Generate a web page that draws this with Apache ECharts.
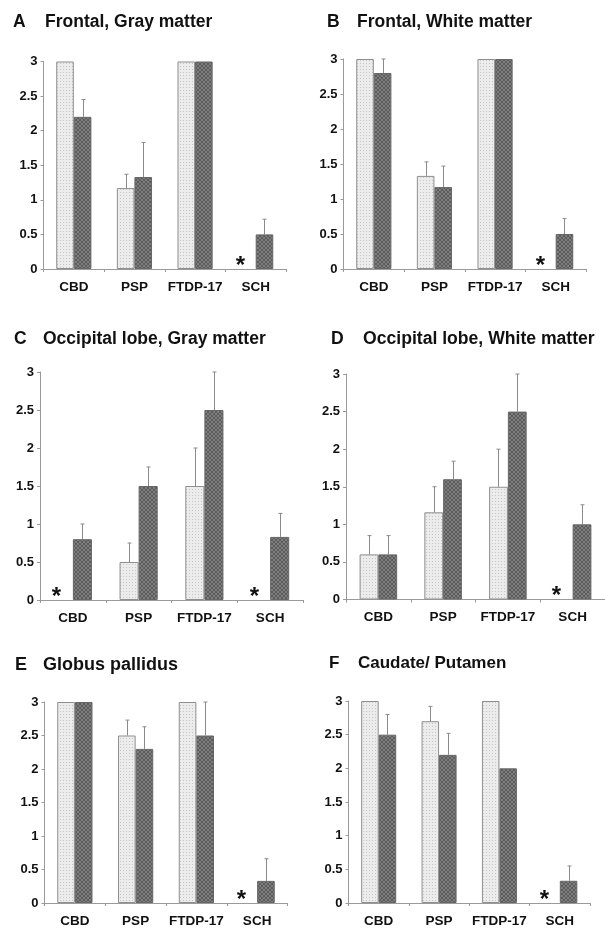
<!DOCTYPE html>
<html>
<head>
<meta charset="utf-8">
<script src="https://cdn.jsdelivr.net/npm/echarts@6/dist/echarts.min.js"></script>
<style>
html, body { margin: 0; padding: 0; background: #fff; }
#chart { width: 605px; height: 928px; }
</style>
</head>
<body>
<div id="chart"></div>
<script>
// x categories (same for all six panels)
const categories = ['CBD', 'PSP', 'FTDP-17', 'SCH'];
// y scale
const yMin = 0, yMax = 3, yStep = 0.5;

// A  Frontal, Gray matter   (light = dotted bars, dark = hatched bars, *Err = upper error bar)
const aLight = [3, 1.17, 3, 0];
const aLightErr = [0, 0.2, 0, 0];
const aDark = [2.2, 1.33, 3, 0.5];
const aDarkErr = [0.25, 0.5, 0, 0.22];

// B  Frontal, White matter
const bLight = [3, 1.33, 3, 0];
const bLightErr = [0, 0.2, 0, 0];
const bDark = [2.8, 1.17, 3, 0.5];
const bDarkErr = [0.2, 0.3, 0, 0.22];

// C  Occipital lobe, Gray matter
const cLight = [0, 0.5, 1.5, 0];
const cLightErr = [0, 0.25, 0.5, 0];
const cDark = [0.8, 1.5, 2.5, 0.83];
const cDarkErr = [0.2, 0.25, 0.5, 0.31];

// D  Occipital lobe, White matter
const dLight = [0.6, 1.16, 1.5, 0];
const dLightErr = [0.25, 0.34, 0.5, 0];
const dDark = [0.6, 1.6, 2.5, 1.0];
const dDarkErr = [0.25, 0.24, 0.5, 0.26];

// E  Globus pallidus
const eLight = [3, 2.5, 3, 0];
const eLightErr = [0, 0.23, 0, 0];
const eDark = [3, 2.3, 2.5, 0.33];
const eDarkErr = [0, 0.33, 0.5, 0.33];

// F  Caudate/ Putamen
const fLight = [3, 2.7, 3, 0];
const fLightErr = [0, 0.22, 0, 0];
const fDark = [2.5, 2.2, 2.0, 0.33];
const fDarkErr = [0.3, 0.32, 0, 0.22];

// panel layout (pixel boxes)
const panels = [
  {letter: 'A', title: 'Frontal, Gray matter', lx: 13, tx: 45, ty: 23, fs: 17.5,
   grid: {left: 43.5, top: 61.5, width: 242.5, height: 207.5},
   light: aLight, lightErr: aLightErr, dark: aDark, darkErr: aDarkErr},
  {letter: 'B', title: 'Frontal, White matter', lx: 327, tx: 357, ty: 23, fs: 17.5,
   grid: {left: 343.5, top: 59, width: 242.5, height: 210},
   light: bLight, lightErr: bLightErr, dark: bDark, darkErr: bDarkErr},
  {letter: 'C', title: 'Occipital lobe, Gray matter', lx: 14, tx: 43, ty: 340, fs: 17.5,
   grid: {left: 40, top: 372, width: 263, height: 228},
   light: cLight, lightErr: cLightErr, dark: cDark, darkErr: cDarkErr},
  {letter: 'D', title: 'Occipital lobe, White matter', lx: 331, tx: 363, ty: 340, fs: 17.6,
   grid: {left: 346, top: 374, width: 262, height: 225.5},
   light: dLight, lightErr: dLightErr, dark: dDark, darkErr: dDarkErr},
  {letter: 'E', title: 'Globus pallidus', lx: 15, tx: 43, ty: 666, fs: 18,
   grid: {left: 44.5, top: 702, width: 243, height: 208.5},
   light: eLight, lightErr: eLightErr, dark: eDark, darkErr: eDarkErr},
  {letter: 'F', title: 'Caudate/ Putamen', lx: 329, tx: 358, ty: 665, fs: 17,
   grid: {left: 348.5, top: 701, width: 241.5, height: 208},
   light: fLight, lightErr: fLightErr, dark: fDark, darkErr: fDarkErr}
];

const FONT = '"Liberation Sans", Arial, Helvetica, sans-serif';
const GAP = 0.42; // barCategoryGap
const AXIS_GRAY = '#9a9a9a';

// small canvas textures for the two bar fills
function makePattern(size, bg, fg, pixels) {
  const cv = document.createElement('canvas');
  cv.width = size; cv.height = size;
  const ctx = cv.getContext('2d');
  ctx.fillStyle = bg;
  ctx.fillRect(0, 0, size, size);
  ctx.fillStyle = fg;
  pixels.forEach(function (p) { ctx.fillRect(p[0], p[1], 1, 1); });
  return {image: cv, repeat: 'repeat'};
}
const dotFill = makePattern(3, '#ececec', '#c6c6c6', [[0, 0]]);
const hatchFill = makePattern(4, '#7e7e7e', '#5c5c5c', [[0, 0], [1, 1], [2, 2], [3, 3], [3, 0], [2, 1], [1, 2], [0, 3]]);

// error bars + asterisk for missing light bars
function renderErr(params, api) {
  const idx = api.value(0), val = api.value(1), err = api.value(2), side = api.value(3);
  const band = api.size([1, 0])[0];
  const barW = band * (1 - GAP) / 2;
  const base = api.coord([idx, val]);
  const x = Math.round(base[0] + side * barW / 2) + 0.5;
  const children = [];
  if (err > 0) {
    const top = api.coord([idx, val + err]);
    children.push({type: 'line', shape: {x1: x, y1: base[1], x2: x, y2: top[1]},
      style: {stroke: '#8a8a8a', lineWidth: 1}});
    children.push({type: 'line', shape: {x1: x - 2, y1: top[1], x2: x + 2, y2: top[1]},
      style: {stroke: '#8a8a8a', lineWidth: 1}});
  }
  if (side < 0 && val === 0) {
    children.push({type: 'text', x: x - 7, y: base[1] - 3,
      style: {text: '*', font: 'bold 24px ' + FONT, fill: '#111', align: 'center', verticalAlign: 'middle'}});
  }
  return {type: 'group', children: children};
}

const titles = [], grids = [], xAxes = [], yAxes = [], series = [];

panels.forEach(function (p, i) {
  titles.push({text: p.letter, left: p.lx, top: p.ty - 10, padding: 0,
    textStyle: {fontFamily: FONT, fontWeight: 'bold', fontSize: p.fs, color: '#111'}});
  titles.push({text: p.title, left: p.tx, top: p.ty - 10, padding: 0,
    textStyle: {fontFamily: FONT, fontWeight: 'bold', fontSize: p.fs, color: '#111'}});

  grids.push(Object.assign({containLabel: false}, p.grid));

  xAxes.push({
    type: 'category', gridIndex: i, data: categories,
    axisLine: {lineStyle: {color: AXIS_GRAY, width: 1}},
    axisTick: {show: true, length: 3, lineStyle: {color: AXIS_GRAY}},
    axisLabel: {fontFamily: FONT, fontWeight: 'bold', fontSize: 13.5, color: '#111', margin: 11, interval: 0}
  });
  yAxes.push({
    type: 'value', gridIndex: i, min: yMin, max: yMax, interval: yStep,
    splitLine: {show: false},
    axisLine: {show: true, lineStyle: {color: AXIS_GRAY, width: 1}},
    axisTick: {show: true, length: 3, lineStyle: {color: AXIS_GRAY}},
    axisLabel: {fontFamily: FONT, fontWeight: 'bold', fontSize: 13, color: '#111', margin: 6}
  });

  const lightData = p.light.map(function (v) {
    return v === 0 ? {value: 0, itemStyle: {borderWidth: 0}} : v;
  });
  series.push({
    type: 'bar', xAxisIndex: i, yAxisIndex: i, data: lightData,
    barGap: '0%', barCategoryGap: (GAP * 100) + '%',
    itemStyle: {color: dotFill, borderColor: '#8f8f8f', borderWidth: 1}
  });
  series.push({
    type: 'bar', xAxisIndex: i, yAxisIndex: i, data: p.dark,
    barGap: '0%', barCategoryGap: (GAP * 100) + '%',
    itemStyle: {color: hatchFill, borderColor: '#666666', borderWidth: 1}
  });

  const errData = [];
  categories.forEach(function (c, k) {
    errData.push([k, p.light[k], p.lightErr[k], -1]);
    errData.push([k, p.dark[k], p.darkErr[k], 1]);
  });
  series.push({
    type: 'custom', xAxisIndex: i, yAxisIndex: i, data: errData,
    renderItem: renderErr, clip: false, z: 5,
    encode: {x: 0, y: 1}
  });
});

const myChart = echarts.init(document.getElementById('chart'), null, {renderer: 'canvas'});
myChart.setOption({
  backgroundColor: '#ffffff',
  animation: false,
  title: titles,
  grid: grids,
  xAxis: xAxes,
  yAxis: yAxes,
  series: series
});
</script>
</body>
</html>
